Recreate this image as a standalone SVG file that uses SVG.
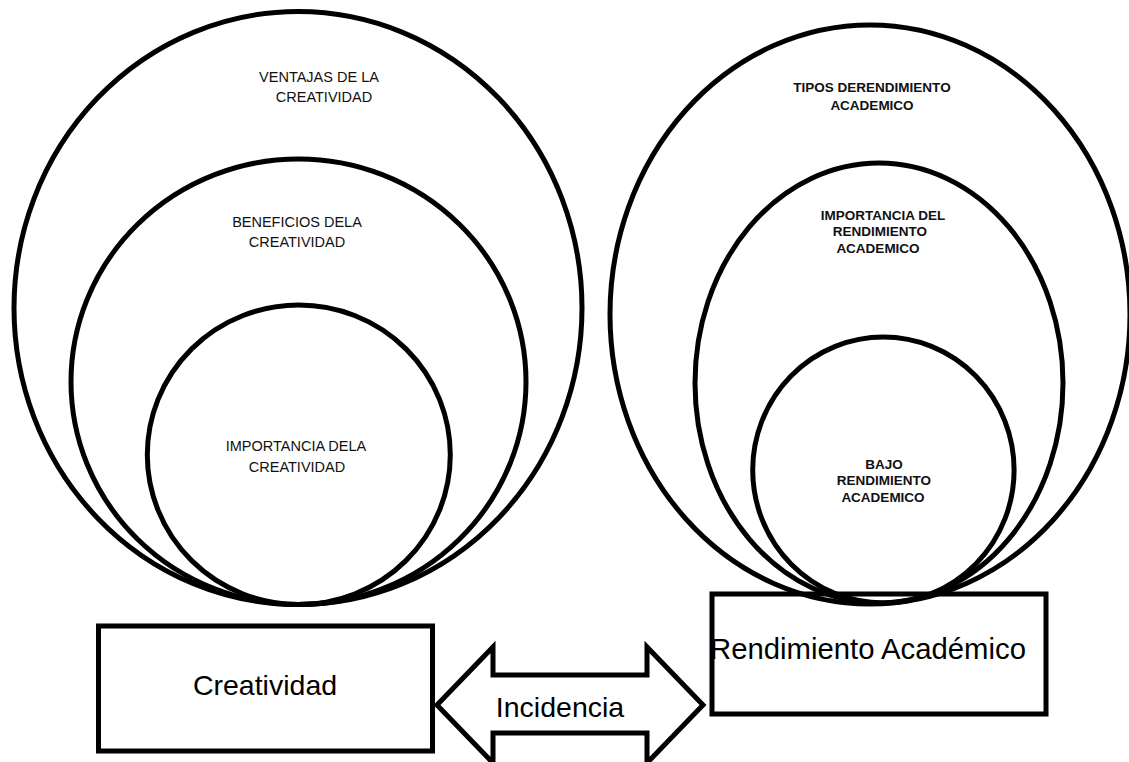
<svg xmlns="http://www.w3.org/2000/svg" width="1129" height="762" viewBox="0 0 1129 762">
<style>
.ring{fill:none;stroke:#000;stroke-width:5}
.box{fill:#fff;stroke:#000;stroke-width:5}
.lbl{font-family:"Liberation Sans",Arial,sans-serif;font-size:14.5px;fill:#111;text-anchor:middle}
.blbl{font-family:"Liberation Sans",Arial,sans-serif;font-size:13.5px;font-weight:bold;fill:#111;text-anchor:middle}
.big{font-family:"Liberation Sans",Arial,sans-serif;font-size:28.5px;fill:#000;text-anchor:middle}
</style>
<rect width="1129" height="762" fill="#fff"/>
<g id="rendimiento-box">
<rect class="box" x="712" y="594" width="334" height="120"/>
<text class="big" x="868" y="659" style="font-size:29.3px">Rendimiento Académico</text>
</g>
<g id="creatividad-box">
<rect class="box" x="98.5" y="626" width="334" height="125"/>
<text class="big" x="265" y="695">Creatividad</text>
</g>
<g id="ventajas">
<ellipse class="ring" cx="298" cy="308" rx="284" ry="296.5"/>
<text class="lbl" x="319" y="82">VENTAJAS DE LA</text>
<text class="lbl" x="324" y="102">CREATIVIDAD</text>
</g>
<g id="beneficios">
<ellipse class="ring" cx="298.5" cy="381.75" rx="227.5" ry="222.75"/>
<text class="lbl" x="297" y="227">BENEFICIOS DELA</text>
<text class="lbl" x="297" y="247">CREATIVIDAD</text>
</g>
<g id="importancia-creatividad">
<ellipse class="ring" cx="298.8" cy="454.75" rx="151.5" ry="149.75"/>
<text class="lbl" x="296" y="451">IMPORTANCIA DELA</text>
<text class="lbl" x="297" y="472">CREATIVIDAD</text>
</g>
<g id="tipos">
<ellipse class="ring" cx="870" cy="314.5" rx="260" ry="289.5"/>
<text class="blbl" x="872" y="92">TIPOS DERENDIMIENTO</text>
<text class="blbl" x="872" y="110">ACADEMICO</text>
</g>
<g id="importancia-rendimiento">
<ellipse class="ring" cx="879" cy="383" rx="184" ry="220"/>
<text class="blbl" x="883" y="220">IMPORTANCIA DEL</text>
<text class="blbl" x="880" y="236">RENDIMIENTO</text>
<text class="blbl" x="878" y="253">ACADEMICO</text>
</g>
<g id="bajo">
<ellipse class="ring" cx="883.4" cy="470" rx="130.7" ry="133"/>
<text class="blbl" x="884" y="469">BAJO</text>
<text class="blbl" x="884" y="485">RENDIMIENTO</text>
<text class="blbl" x="883" y="502">ACADEMICO</text>
</g>
<g id="connectors">
<polygon points="437,705 493,647 493,675 647,675 647,647 703,705 647,763 647,733 493,733 493,763" fill="#fff" stroke="#000" stroke-width="5" stroke-linejoin="miter"/>
<text class="big" x="560" y="717">Incidencia</text>
</g>
</svg>
